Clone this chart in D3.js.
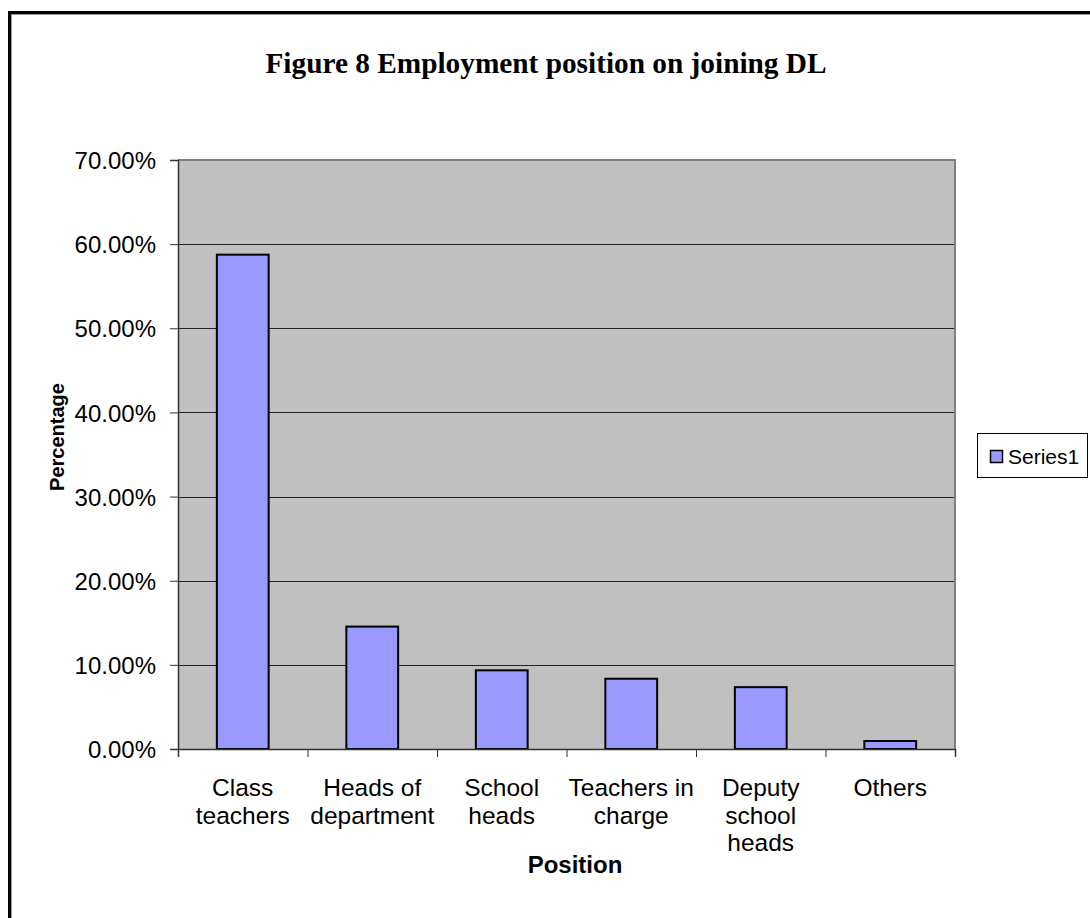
<!DOCTYPE html>
<html>
<head>
<meta charset="utf-8">
<script src="https://cdn.jsdelivr.net/npm/d3@7"></script>
<style>
  html, body { margin: 0; padding: 0; background: #fff; }
  svg { display: block; }
</style>
</head>
<body>
<svg id="chart" width="1090" height="918"></svg>
<script>
const titleText = "Figure 8 Employment position on joining DL";
const categories = [
  ["Class", "teachers"],
  ["Heads of", "department"],
  ["School", "heads"],
  ["Teachers in", "charge"],
  ["Deputy", "school", "heads"],
  ["Others"]
];
const values = [0.5875, 0.1455, 0.0935, 0.0835, 0.0735, 0.0095];
const yTicks = [0, 0.1, 0.2, 0.3, 0.4, 0.5, 0.6, 0.7];
const seriesName = "Series1";
const xTitle = "Position";
const yTitle = "Percentage";

const svg = d3.select("#chart");
const plot = { left: 178, right: 955, top: 160, bottom: 749 };

// outer frame
svg.append("rect").attr("x", 9.5).attr("y", 12.5).attr("width", 1200).attr("height", 1000)
  .attr("fill", "#fff").attr("stroke", "#000").attr("stroke-width", 3);
svg.append("line").attr("x1", 11.5).attr("x2", 11.5).attr("y1", 14).attr("y2", 918)
  .attr("stroke", "#999").attr("stroke-width", 1);
svg.append("line").attr("x1", 11).attr("x2", 1090).attr("y1", 14.5).attr("y2", 14.5)
  .attr("stroke", "#999").attr("stroke-width", 1);

const x = d3.scaleBand().domain(d3.range(categories.length))
  .range([plot.left, plot.right]).paddingInner(0).paddingOuter(0);
const y = d3.scaleLinear().domain([0, 0.7]).range([plot.bottom, plot.top]);

// plot background
svg.append("rect").attr("x", plot.left).attr("y", plot.top)
  .attr("width", plot.right - plot.left).attr("height", plot.bottom - plot.top)
  .attr("fill", "#C0C0C0");

// gridlines
svg.append("g").selectAll("line").data(yTicks.filter(d => d > 0 && d < 0.7)).join("line")
  .attr("x1", plot.left).attr("x2", plot.right)
  .attr("y1", d => Math.round(y(d)) + 0.5).attr("y2", d => Math.round(y(d)) + 0.5)
  .attr("stroke", "#222").attr("stroke-width", 1);

// plot border top/right
svg.append("path")
  .attr("d", `M${plot.left},${plot.top} H${plot.right} V${plot.bottom}`)
  .attr("fill", "none").attr("stroke", "#808080").attr("stroke-width", 2);

// bars
const bw = x.bandwidth() * 0.4;
svg.append("g").selectAll("rect").data(values).join("rect")
  .attr("x", (d, i) => x(i) + (x.bandwidth() - bw) / 2)
  .attr("y", d => y(d))
  .attr("width", bw)
  .attr("height", d => y(0) - y(d))
  .attr("fill", "#9999FF")
  .attr("stroke", "#000").attr("stroke-width", 2);

// y axis
const yAxis = d3.axisLeft(y).tickValues(yTicks).tickSize(8).tickPadding(14)
  .tickFormat(d => (d * 100).toFixed(2) + "%");
const gy = svg.append("g").attr("transform", `translate(${plot.left},0)`).call(yAxis);
gy.select(".domain").attr("stroke", "#333").attr("stroke-width", 1.5);
gy.selectAll(".tick line").attr("stroke", "#333");
gy.selectAll(".tick text").attr("font-family", "Arial, 'Liberation Sans', sans-serif")
  .attr("font-size", 24).attr("fill", "#000").attr("x", -22).attr("dy", "0.36em");

// x axis
const xb = d3.scaleLinear().domain([0, categories.length]).range([plot.left, plot.right]);
const xAxis = d3.axisBottom(xb).tickValues(d3.range(categories.length + 1)).tickSize(8).tickFormat("");
const gx = svg.append("g").attr("transform", `translate(0,${plot.bottom})`).call(xAxis);
gx.select(".domain").attr("stroke", "#333").attr("stroke-width", 1.5);
gx.selectAll(".tick line").attr("stroke", "#333");

// x labels
const lbl = svg.append("g");
categories.forEach((lines, i) => {
  const t = lbl.append("text")
    .attr("x", x(i) + x.bandwidth() / 2)
    .attr("y", 796)
    .attr("text-anchor", "middle")
    .attr("font-family", "Arial, 'Liberation Sans', sans-serif")
    .attr("font-size", 24.5);
  lines.forEach((ln, j) => {
    t.append("tspan").attr("x", x(i) + x.bandwidth() / 2).attr("dy", j === 0 ? 0 : 27.5).text(ln);
  });
});

// title
svg.append("text").attr("x", 546).attr("y", 73)
  .attr("text-anchor", "middle")
  .attr("font-family", "'Times New Roman', 'Liberation Serif', serif")
  .attr("font-weight", "bold").attr("font-size", 29.3)
  .text(titleText);

// axis titles
svg.append("text").attr("x", 575).attr("y", 873)
  .attr("text-anchor", "middle")
  .attr("font-family", "Arial, 'Liberation Sans', sans-serif")
  .attr("font-weight", "bold").attr("font-size", 24)
  .text(xTitle);

svg.append("text")
  .attr("transform", "translate(64,437) rotate(-90)")
  .attr("text-anchor", "middle")
  .attr("font-family", "Arial, 'Liberation Sans', sans-serif")
  .attr("font-weight", "bold").attr("font-size", 20)
  .text(yTitle);

// legend
const lg = svg.append("g");
lg.append("rect").attr("x", 977.5).attr("y", 433.5).attr("width", 110).attr("height", 44)
  .attr("fill", "#fff").attr("stroke", "#000").attr("stroke-width", 1);
lg.append("rect").attr("x", 990.5).attr("y", 450.5).attr("width", 12).attr("height", 12)
  .attr("fill", "#9999FF").attr("stroke", "#000").attr("stroke-width", 1.5);
lg.append("text").attr("x", 1008).attr("y", 464)
  .attr("font-family", "Arial, 'Liberation Sans', sans-serif")
  .attr("font-size", 21)
  .text(seriesName);
</script>
</body>
</html>
